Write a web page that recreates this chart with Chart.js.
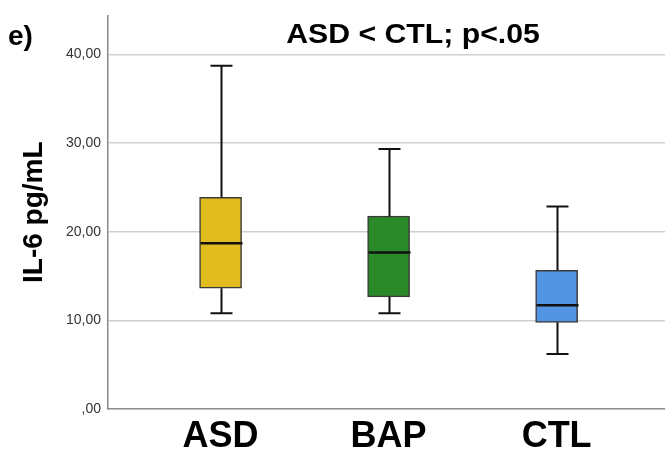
<!DOCTYPE html>
<html>
<head>
<meta charset="utf-8">
<script src="https://cdn.jsdelivr.net/npm/chart.js@4/dist/chart.umd.min.js"></script>
<style>
  body { margin: 0; background: #fff; }
  canvas { display: block; }
</style>
</head>
<body>
<canvas id="chart" width="665" height="450"></canvas>
<script>
"use strict";

// group names and box plot values (IL-6 pg/mL)
let categories = ['ASD', 'BAP', 'CTL'];
let whiskerLow = [10.79, 10.79, 6.21];
let q1 = [13.63, 12.65, 9.78];
let median = [18.69, 17.64, 11.69];
let q3 = [23.89, 21.75, 15.65];
let whiskerHigh = [38.72, 29.33, 22.84];
let yTicks = [0, 10, 20, 30, 40];
let boxColors = ['#E1BC1F', '#2A8A2A', '#5394E3'];

let font = '"Liberation Sans", Arial, sans-serif';
let xMin = -0.67;
let xMax = 2.645;

function formatTick(v) {
  // SPSS style: comma decimals, no leading zero
  if (v === 0) return ',00';
  return v.toFixed(2).replace('.', ',');
}

// whiskers, caps and median lines on top of the floating bars
let boxPlotPlugin = {
  id: 'boxPlot',
  afterDatasetsDraw(chart) {
    let ctx = chart.ctx;
    let x = chart.scales.x;
    let y = chart.scales.y;
    let capHalf = 11;
    let boxHalf = 21;
    ctx.save();
    ctx.strokeStyle = '#111';
    for (let i = 0; i < categories.length; i++) {
      let cx = Math.round(x.getPixelForValue(i)) + 0.5;
      ctx.lineWidth = 2;
      ctx.beginPath();
      ctx.moveTo(cx, y.getPixelForValue(q3[i]));
      ctx.lineTo(cx, y.getPixelForValue(whiskerHigh[i]));
      ctx.moveTo(cx, y.getPixelForValue(q1[i]));
      ctx.lineTo(cx, y.getPixelForValue(whiskerLow[i]));
      ctx.moveTo(cx - capHalf, y.getPixelForValue(whiskerHigh[i]));
      ctx.lineTo(cx + capHalf, y.getPixelForValue(whiskerHigh[i]));
      ctx.moveTo(cx - capHalf, y.getPixelForValue(whiskerLow[i]));
      ctx.lineTo(cx + capHalf, y.getPixelForValue(whiskerLow[i]));
      ctx.stroke();
      ctx.lineWidth = 2.5;
      ctx.beginPath();
      ctx.moveTo(cx - boxHalf, y.getPixelForValue(median[i]));
      ctx.lineTo(cx + boxHalf, y.getPixelForValue(median[i]));
      ctx.stroke();
    }
    ctx.restore();
  }
};

// panel letter and test result
let labelsPlugin = {
  id: 'panelLabels',
  afterDraw(chart) {
    let ctx = chart.ctx;
    ctx.save();
    ctx.fillStyle = '#000';
    ctx.textBaseline = 'alphabetic';
    ctx.font = 'bold 28px ' + font;
    ctx.textAlign = 'left';
    ctx.fillText('e)', 8, 45);
    ctx.font = 'bold 27px ' + font;
    ctx.save();
    ctx.translate(413, 43);
    ctx.scale(1.12, 1);
    ctx.textAlign = 'center';
    ctx.fillText('ASD < CTL; p<.05', 0, 0);
    ctx.restore();
    ctx.restore();
  }
};

let data = {
  datasets: [{
    data: categories.map((c, i) => ({ x: i, y: [q1[i], q3[i]] })),
    backgroundColor: boxColors,
    borderColor: '#3a3a3a',
    borderWidth: 1.5,
    borderSkipped: false,
    barThickness: 42
  }]
};

let config = {
  type: 'bar',
  data: data,
  options: {
    responsive: false,
    animation: false,
    layout: { padding: { top: 14, left: 0, right: 0, bottom: 0 } },
    plugins: {
      legend: { display: false },
      tooltip: { enabled: false }
    },
    scales: {
      x: {
        type: 'linear',
        offset: false,
        bounds: 'data',
        min: xMin,
        max: xMax,
        afterDataLimits(scale) {
          scale.min = xMin;
          scale.max = xMax;
        },
        afterBuildTicks(scale) {
          scale.min = xMin;
          scale.max = xMax;
          scale.ticks = categories.map((c, i) => ({ value: i }));
        },
        afterFit(scale) { scale.height = 41; },
        ticks: {
          callback: (v) => categories[v],
          font: { family: font, size: 36, weight: 'bold' },
          color: '#000',
          padding: 6,
          maxRotation: 0,
          autoSkip: false
        },
        grid: { display: false, drawTicks: false, offset: false },
        border: { display: true, color: '#8a8a8a', width: 1.5 }
      },
      y: {
        min: 0,
        max: 44.4,
        afterBuildTicks(scale) {
          scale.ticks = yTicks.map(v => ({ value: v }));
        },
        afterFit(scale) { scale.width = 108; },
        ticks: {
          callback: (v) => formatTick(v),
          font: { family: font, size: 14 },
          color: '#333',
          padding: 7
        },
        grid: {
          drawTicks: false,
          color: (c) => c.tick && c.tick.value === 0 ? 'rgba(0,0,0,0)' : '#cfcfcf',
          lineWidth: 1.5
        },
        border: { display: true, color: '#8a8a8a', width: 1.5 },
        title: {
          display: true,
          text: 'IL-6 pg/mL',
          font: { family: font, size: 28, weight: 'bold' },
          color: '#000',
          padding: { top: 17, bottom: 0 }
        }
      }
    }
  },
  plugins: [boxPlotPlugin, labelsPlugin]
};

let myChart = new Chart(document.getElementById('chart'), config);
</script>
</body>
</html>
